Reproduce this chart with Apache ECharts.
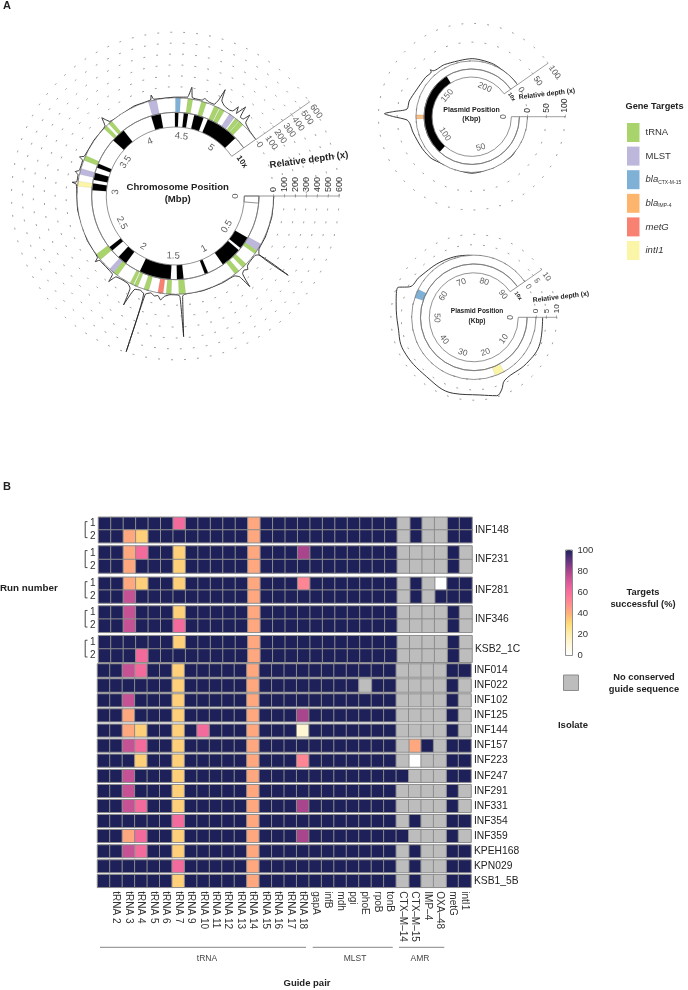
<!DOCTYPE html>
<html>
<head>
<meta charset="utf-8">
<style>html,body{margin:0;padding:0;background:#fff}#c{width:688px;height:990px}</style>
<script src="https://cdn.jsdelivr.net/npm/echarts@6/dist/echarts.min.js"></script>
</head>
<body>
<div id="c"></div>
<script>
/* ---------- heat map data ---------- */
const guides = ['', 'tRNA 2','tRNA 3','tRNA 4','tRNA 5','tRNA 6','tRNA 7','tRNA 9','tRNA 10','tRNA 11','tRNA 12','tRNA 13','tRNA 14','tRNA 15','tRNA 16','tRNA 17','tRNA 18','gapA','infB','mdh','pgi','phoE','rpoB','tonB','CTX\u2013M\u201314','CTX\u2013M\u201315','IMP\u20134','OXA\u201348','metG','intI1'];
const _ = null;
const INF148_1 = [100,100,100,100,100,100,62,100,100,100,100,100,42,100,100,100,100,100,100,100,100,100,100,100,_,100,_,_,100,100];
const INF148_2 = [100,100,42,33,100,100,100,100,100,100,100,100,42,100,100,100,100,100,100,100,100,100,100,100,_,100,_,_,100,100];
const INF231_1 = [100,100,42,62,100,100,33,100,100,100,100,100,42,100,100,100,80,100,100,100,100,100,100,100,_,_,_,_,100,_];
const INF231_2 = [100,100,42,100,100,100,33,100,100,100,100,100,42,100,100,100,100,100,100,100,100,100,100,100,_,_,_,_,100,_];
const INF281_1 = [100,100,42,33,100,100,33,100,100,100,100,100,42,100,100,100,52,100,100,100,100,100,100,100,_,100,_,0,100,100];
const INF281_2 = [100,100,74,100,100,100,100,100,100,100,100,100,42,100,100,100,100,100,100,100,100,100,100,100,_,100,_,100,100,100];
const INF346_1 = [100,100,74,100,100,100,33,100,100,100,100,100,42,100,100,100,100,100,100,100,100,100,100,100,_,_,_,_,100,_];
const INF346_2 = [100,100,74,100,100,100,62,100,100,100,100,100,42,100,100,100,100,100,100,100,100,100,100,100,_,_,_,_,100,_];
const KSB2_1C_1 = [100,100,100,100,100,100,33,100,100,100,100,100,42,100,100,100,100,100,100,100,100,100,100,100,_,_,_,_,100,_];
const KSB2_1C_2 = [100,100,100,62,100,100,100,100,100,100,100,100,42,100,100,100,100,100,100,100,100,100,100,100,_,_,_,_,100,_];
const INF014 = [100,100,74,62,100,100,33,100,100,100,100,100,42,100,100,100,100,100,100,100,100,100,100,100,_,_,_,_,100,100];
const INF022 = [100,100,100,100,100,100,33,100,100,100,100,100,42,100,100,100,100,100,100,100,100,_,100,100,_,_,_,_,100,_];
const INF102 = [100,100,74,100,100,100,33,100,100,100,100,100,42,100,100,100,100,100,100,100,100,100,100,100,_,_,_,_,100,_];
const INF125 = [100,100,42,100,100,100,33,100,100,100,100,100,42,100,100,100,80,100,100,100,100,100,100,100,_,_,_,_,100,_];
const INF144 = [100,100,42,33,100,100,33,100,62,100,100,100,42,100,100,100,12,100,100,100,100,100,100,100,_,_,_,_,100,_];
const INF157 = [100,100,74,62,100,100,33,100,100,100,100,100,42,100,100,100,100,100,100,100,100,100,100,100,_,42,100,_,100,100];
const INF223 = [100,100,100,33,100,100,33,100,100,100,100,100,42,100,100,100,52,100,100,100,100,100,100,100,_,0,_,_,100,100];
const INF247 = [100,100,74,100,100,100,33,100,100,100,100,100,42,100,100,100,100,100,100,100,100,100,100,100,100,_,_,_,100,100];
const INF291 = [100,100,74,100,100,100,33,100,100,100,100,100,42,100,100,100,100,100,100,100,100,100,100,100,_,_,_,_,100,_];
const INF331 = [100,100,74,62,100,100,33,100,100,100,100,100,42,100,100,100,80,100,100,100,100,100,100,100,_,_,_,_,100,_];
const INF354 = [100,100,100,100,100,100,62,100,100,100,100,100,42,100,100,100,100,100,100,100,100,100,100,100,_,100,_,_,100,100];
const INF359 = [100,100,42,62,100,100,33,100,100,100,100,100,42,100,100,100,80,100,100,100,100,100,100,100,100,_,_,_,100,_];
const KPEH168 = [100,100,74,62,100,100,33,100,100,100,100,100,42,100,100,100,100,100,100,100,100,100,100,100,_,100,_,_,100,100];
const KPN029 = [100,100,100,100,100,100,62,100,100,100,100,100,42,100,100,100,100,100,100,100,100,100,100,100,_,100,_,_,100,100];
const KSB1_5B = [100,100,100,100,100,100,33,100,100,100,100,100,42,100,100,100,100,100,100,100,100,100,100,100,_,100,_,_,100,100];
const isolates = ['INF148','INF231','INF281','INF346','KSB2_1C','INF014','INF022','INF102','INF125','INF144','INF157','INF223','INF247','INF291','INF331','INF354','INF359','KPEH168','KPN029','KSB1_5B'];
const isolateRuns = [[INF148_1,INF148_2],[INF231_1,INF231_2],[INF281_1,INF281_2],[INF346_1,INF346_2],[KSB2_1C_1,KSB2_1C_2],[INF014],[INF022],[INF102],[INF125],[INF144],[INF157],[INF223],[INF247],[INF291],[INF331],[INF354],[INF359],[KPEH168],[KPN029],[KSB1_5B]];
const scaleColors = ['#ffffff','#fff8dc','#ffeeb0','#ffdc78','#ffb07c','#ff8a92','#f96f9c','#d95a9a','#a8458c','#623480','#1e2159'];
const scaleTicks = [0,20,40,60,80,100];

/* ---------- chromosome ---------- */
const chromTicks = [0,0.5,1,1.5,2,2.5,3,3.5,4,4.5,5];
const chromDepthTicks = [0,100,200,300,400,500,600];
const chromEnd = 5.3;
const chromFull = 5.873;
const chromBlack = [[0.49,0.63],[0.66,0.90],[1.09,1.13],[1.375,1.45],[1.52,1.88],[2.06,2.17],[2.27,2.32],[3.00,3.08],[3.12,3.20],[3.26,3.31],[3.62,3.78],[4.13,4.24],[4.40,4.44],[4.50,4.55],[4.62,4.73],[4.78,5.155]];
const chromTRNA = [[0.548,0.587],[0.715,0.763],[0.809,0.858],[1.369,1.434],[1.507,1.556],[1.724,1.773],[1.835,1.871],[1.881,1.917],[2.055,2.104],[2.277,2.343],[3.284,3.333],[3.643,3.682],[3.708,3.747],[4.524,4.573],[4.657,4.706],[4.788,4.837],[4.845,4.894],[5.021,5.060],[5.065,5.114]];
const chromMLST = [[0.478,0.548],[2.104,2.153],[3.144,3.202],[4.144,4.225],[4.949,5.008]];
const chromBlaCTX = [[4.406,4.455]];
const chromMetG = [[1.584,1.636]];
const chromIntI1 = [[3.029,3.078]];
const chromStartBox = [[0,0.08]];
const chromDepth = [[0,2],[0.2,4],[0.4,6],[0.53,8],[0.565,30],[0.572,363],[0.578,30],[0.60,10],[0.68,10],[0.72,20],[0.74,45],[0.77,25],[0.80,40],[0.825,175],[0.84,45],[0.87,12],[1.0,5],[1.2,3],[1.38,3],[1.40,20],[1.413,391],[1.425,20],[1.45,6],[1.52,5],[1.57,25],[1.60,61],[1.63,25],[1.66,35],[1.70,15],[1.745,40],[1.754,595],[1.762,40],[1.80,20],[1.85,30],[1.883,205],[1.895,40],[1.93,12],[2.0,8],[2.06,18],[2.086,93],[2.10,20],[2.2,8],[2.28,12],[2.294,48],[2.31,10],[2.5,3],[2.8,3],[3.0,5],[3.05,15],[3.06,53],[3.07,12],[3.14,12],[3.16,43],[3.18,10],[3.28,10],[3.30,47],[3.32,10],[3.5,3],[3.67,10],[3.70,83],[3.73,10],[4.0,6],[4.17,8],[4.185,50],[4.2,8],[4.4,5],[4.52,12],[4.546,107],[4.565,14],[4.66,12],[4.68,33],[4.72,15],[4.78,12],[4.80,60],[4.815,175],[4.83,70],[4.87,40],[4.93,30],[4.96,40],[4.98,100],[5.0,40],[5.03,139],[5.05,35],[5.08,40],[5.10,107],[5.12,30],[5.2,5],[5.3,0]];

/* ---------- plasmid 1 ---------- */
const p1Ticks = [0,50,100,150,200];
const p1DepthTicks = [0,50,100];
const p1End = 221;
const p1Full = 244.9;
const p1Black = [[90,162]];
const p1BlaIMP = [[120.8,122.1],[122.5,123.8]];
const p1Depth = [[0,0],[30,1],[61,2],[90,5],[100,8],[112,13],[118,17],[120.5,24],[122.5,60],[123.8,84],[125,60],[127,25],[132,23],[140,15],[150,13],[155,12],[155.5,18],[156.5,11],[165,8],[184,6],[199,3],[215,0],[221,0]];
/* ---------- plasmid 2 ---------- */
const p2Ticks = [0,10,20,30,40,50,60,70,80,90];
const p2DepthTicks = [0,5,10];
const p2End = 90.8;
const p2Full = 100.6;
const p2Black = [];
const p2BlaCTX = [[55.4,57.8]];
const p2IntI1 = [[17,19.5]];
const p2Depth = [[0,3.2],[6,4.3],[11.5,3.8],[17.8,3.8],[19.3,7.5],[20.6,9.4],[23.9,7.6],[29.4,8],[35.9,6.6],[43.3,7.5],[48.3,6.8],[53,8],[56.3,9.4],[57.4,4.3],[60.6,2.6],[67.6,1],[74.3,0],[90.8,0]];

const geneColors = {tRNA:'#a9d46c',MLST:'#bdb7dc',CTX:'#7fb1d6',IMP:'#fdb56e',metG:'#f98172',intI1:'#fbf5a8'};

/* ---------- layout ---------- */
const facetBox = [[517.3,25.4],[546,27],[577.3,25.7],[606,26.3],[635.7,26.6],[664,13],[679,13],[694,12.7],[709,12.7],[724.3,12.5],[739.3,12.7],[754.3,12.7],[769.7,12.5],[784.7,12.6],[799.7,12.6],[814.7,12.6],[829.7,12.6],[845,12.5],[860,12.5],[874.7,12.6]];
const facetLabelNudge = [-2.7,-1.2,-1,-3,1];
const FONT = '"Liberation Sans", Arial, sans-serif';

/* ---------- options ---------- */
const grid=[],xAxis=[],yAxis=[],series=[];
const valueSeries=[];
isolates.forEach((name,i)=>{
  const [top,h]=facetBox[i];
  const runs=isolateRuns[i];
  const n=facetLabelNudge[i]||0;
  grid.push({left:i<5?98.5:97.5,top:top,width:373.5,height:h,containLabel:false});
  xAxis.push({type:'category',gridIndex:i,data:guides,position:'bottom',
    axisLine:{show:false},axisTick:{show:false},splitLine:{show:false},
    axisLabel:{show:i===isolates.length-1,interval:0,rotate:-90,margin:4,fontSize:10,color:'#333',fontFamily:FONT}});
  yAxis.push({type:'category',gridIndex:i,inverse:true,position:'left',data:runs.length>1?['1','2']:[''],
    axisLine:{show:false},axisTick:{show:false},splitLine:{show:false},
    axisLabel:{show:runs.length>1,margin:3,fontSize:10,color:'#333',fontFamily:FONT,interval:0}});
  yAxis.push({type:'category',gridIndex:i,position:'right',data:[name],
    axisLine:{show:false},axisTick:{show:false},splitLine:{show:false},
    axisLabel:{margin:3,fontSize:10.3,color:'#222',fontFamily:FONT,padding:[n>0?2*n:0,0,n<0?-2*n:0,0]}});
  const vals=[],greys=[];
  runs.forEach((row,r)=>row.forEach((v,c)=>{(v===null?greys:vals).push(v===null?[c,r,0]:[c,r,v]);}));
  valueSeries.push(series.length);
  const itemStyle={borderColor:'#8c8c8c',borderWidth:1};
  series.push({type:'heatmap',xAxisIndex:i,yAxisIndex:2*i,data:vals,itemStyle,emphasis:{disabled:true},progressive:0});
  series.push({type:'heatmap',xAxisIndex:i,yAxisIndex:2*i,data:greys,itemStyle:{...itemStyle,color:'#bdbdbd'},emphasis:{disabled:true},progressive:0});
});
// colour bar axis
const barIdx=isolates.length;
grid.push({left:565.5,top:550,width:7,height:105.5,show:true,borderColor:'#777',borderWidth:0.8,backgroundColor:'transparent',z:5});
xAxis.push({type:'value',gridIndex:barIdx,show:false,min:0,max:1});
yAxis.push({type:'value',gridIndex:barIdx,position:'right',min:0,max:100,interval:20,z:5,
  axisLine:{show:false},axisTick:{show:false},splitLine:{show:false},
  axisLabel:{margin:5,fontSize:9.5,color:'#333',fontFamily:FONT,customValues:scaleTicks}});

function bandRender(outline){
  return function(params,api){
    const lo=api.value(0),hi=api.value(1),a=api.value(2),b=api.value(3);
    const c=params.coordSys;
    const p0=api.coord([lo,a]),p1=api.coord([hi,a]),p2=api.coord([lo,b]);
    const r0=Math.hypot(p0[0]-c.cx,p0[1]-c.cy),r=Math.hypot(p1[0]-c.cx,p1[1]-c.cy);
    const s=Math.atan2(p0[1]-c.cy,p0[0]-c.cx);let e=Math.atan2(p2[1]-c.cy,p2[0]-c.cx);
    if(e<=s)e+=2*Math.PI;
    return {type:'sector',z2:outline?1:2,shape:{cx:c.cx,cy:c.cy,r0,r,startAngle:s,endAngle:e,clockwise:true},
      style:outline?{fill:'none',stroke:'#777',lineWidth:0.8}:{fill:api.visual('color'),stroke:'rgba(120,120,120,0.35)',lineWidth:0.3}};
  };
}
function bands(name,polarIndex,track,rows,color,outline){
  return {type:'custom',name,coordinateSystem:'polar',polarIndex,clip:false,silent:true,
    encode:{radius:[0,1],angle:[2,3]},itemStyle:{color},z:outline?3:2,
    renderItem:bandRender(outline),data:rows.map(p=>[track,track+1,p[0],p[1]])};
}
const polar=[],angleAxis=[],radiusAxis=[];
function circle(cfg){
  const base=polar.length;
  const {cx,cy,full,end,r1,r3,rMax,depthMax,depthStep,depthTicks,ext0,ticks,labelOff,fs}=cfg;
  // 0: tracks, 1: depth, 2: second depth axis
  polar.push({center:[cx,cy],radius:[r1,r3]});
  polar.push({center:[cx,cy],radius:[r3,rMax]});
  polar.push({center:[cx,cy],radius:[r3,rMax]});
  [0,0,35].forEach((sa,k)=>{
    angleAxis.push({polarIndex:base+k,type:'value',min:0,max:full,startAngle:sa,clockwise:true,show:false,
      axisLine:{show:false},axisTick:{show:false},axisLabel:{show:false},splitLine:{show:false}});
  });
  radiusAxis.push({polarIndex:base,type:'value',min:0,max:2,show:false});
  const mk=(lab,split)=>({type:'value',min:0,max:depthMax,interval:depthStep,z:6,
     axisLine:{show:false},axisTick:{show:true,length:2,lineStyle:{color:'#888',width:0.6}},
     splitLine:{show:split,lineStyle:{color:'#777',width:0.8,type:[1,12],cap:'round'}},
     axisLabel:{show:lab,rotate:90,margin:4,fontSize:fs,color:'#333',fontFamily:FONT}});
  radiusAxis.push({polarIndex:base+1,...mk(true,true)});
  radiusAxis.push({polarIndex:base+2,...mk(false,false)});

  series.push(bands(undefined,base,0,[[0,end]],'#000',true));
  series.push(bands(undefined,base,1,[[0,end]],'#000',true));
  series.push(bands('black',base,0,cfg.black,'#000',false));
  if(cfg.box) series.push(bands(undefined,base,0,cfg.box,'#000',true));
  cfg.genes.forEach(g=>series.push(bands(g[0],base,1,g[1],g[2],false)));
  // depth line
  series.push({type:'line',coordinateSystem:'polar',polarIndex:base+1,clip:false,showSymbol:false,silent:true,z:4,smooth:cfg.smooth,
    lineStyle:{color:'#222',width:0.9},data:cfg.depth.map(d=>[d[1],d[0]])});
  // axis rules, reaching past both ends of the tick range
  series.push({type:'line',coordinateSystem:'polar',polarIndex:base+1,clip:false,showSymbol:false,silent:true,z:4,
    lineStyle:{color:'#888',width:0.8},data:[[ext0,0],[depthMax*cfg.extTop,0]]});
  series.push({type:'line',coordinateSystem:'polar',polarIndex:base+2,clip:false,showSymbol:false,silent:true,z:4,
    lineStyle:{color:'#888',width:0.8},data:[[0,0],[depthMax*cfg.extTop,0]]});
  // tick labels of the second depth axis sit on its clockwise side
  series.push({type:'scatter',coordinateSystem:'polar',polarIndex:base+2,clip:false,silent:true,symbolSize:1,z:7,
    itemStyle:{color:'transparent'},
    label:{show:true,position:'inside',rotate:-55,align:'left',verticalAlign:'middle',padding:[0,0,0,4],fontSize:fs,color:'#333',fontFamily:FONT,formatter:p=>String(p.value[0])},
    data:depthTicks.map(v=>[v,0])});
  // position labels
  const labs=ticks.map(v=>{
    const th=v/full*360;const rot=th<=180?th-90:th-270;
    return {value:[labelOff,v],label:{rotate:-rot,formatter:String(v)}};
  });
  series.push({type:'scatter',coordinateSystem:'polar',polarIndex:base,clip:false,silent:true,symbolSize:1,z:7,
    itemStyle:{color:'transparent'},label:{show:true,position:'inside',fontSize:cfg.lfs,color:'#333',fontFamily:FONT},data:labs});
}
circle({cx:175.3,cy:196,full:chromFull,end:chromEnd,r1:69,r3:98.3,rMax:163.8,depthMax:600,depthStep:100,depthTicks:chromDepthTicks,ext0:-90,extTop:1.167,smooth:0.12,
  ticks:chromTicks,labelOff:-0.62,fs:9,lfs:9.5,black:chromBlack,box:chromStartBox,
  genes:[['tRNA',chromTRNA,geneColors.tRNA],['MLST',chromMLST,geneColors.MLST],['blaCTX-M-15',chromBlaCTX,geneColors.CTX],['metG',chromMetG,geneColors.metG],['intI1',chromIntI1,geneColors.intI1]],depth:chromDepth});
circle({cx:471.7,cy:116.7,full:p1Full,end:p1End,r1:39.7,r3:55.8,rMax:93.3,depthMax:100,depthStep:50,depthTicks:p1DepthTicks,ext0:-22,extTop:1.15,smooth:0.25,
  ticks:p1Ticks,labelOff:-0.95,fs:8.5,lfs:8.5,black:p1Black,
  genes:[['blaIMP-4',p1BlaIMP,geneColors.IMP]],depth:p1Depth});
circle({cx:473.8,cy:317.3,full:p2Full,end:p2End,r1:44.5,r3:62.2,rMax:82.9,depthMax:10,depthStep:5,depthTicks:p2DepthTicks,ext0:-3.3,extTop:1.0,smooth:0.4,
  ticks:p2Ticks,labelOff:-0.85,fs:8,lfs:8.5,black:p2Black,
  genes:[['blaCTX-M-15',p2BlaCTX,geneColors.CTX],['intI1',p2IntI1,geneColors.intI1]],depth:p2Depth});

function txt(text,x,y,opt){
  opt=opt||{};
  return {type:'text',x,y,rotation:(opt.rot||0)*Math.PI/180,z:20,silent:true,
    style:{text,x:0,y:0,fill:opt.fill||'#222',align:opt.align||'center',verticalAlign:'middle',
      font:(opt.bold?'bold ':'')+(opt.size||9.5)+'px '+FONT}};
}
const graphicEls=[
  txt('A',3,6,{bold:true,size:11,align:'left'}),
  txt('B',3,487,{bold:true,size:11,align:'left'}),
  txt('Chromosome Position',177.7,187,{bold:true,size:9.6}),
  txt('(Mbp)',177.7,199,{bold:true,size:9.6}),
  txt('Relative depth (x)',309,160,{bold:true,size:9.5,rot:7.7}),
  txt('10x',242,162,{bold:true,size:8,rot:-55}),
  txt('Plasmid Position',471.5,110,{bold:true,size:7}),
  txt('(Kbp)',471.5,119,{bold:true,size:7}),
  txt('Relative depth (x)',547,94,{bold:true,size:6.8,rot:7}),
  txt('10x',511.5,97,{bold:true,size:5.5,rot:-55}),
  txt('Plasmid Position',477,311.5,{bold:true,size:6.5}),
  txt('(Kbp)',477,321,{bold:true,size:6.5}),
  txt('Relative depth (x)',561,297,{bold:true,size:6.8,rot:7}),
  txt('10x',518,296,{bold:true,size:5.5,rot:-55}),
  txt('Gene Targets',625.5,106,{bold:true,size:9.2,align:'left'}),
  txt('Run number',0,588,{bold:true,size:9.8,align:'left'}),
  txt('Isolate',573,725,{bold:true,size:9.5}),
  txt('Targets',643,592,{bold:true,size:9.3}),
  txt('successful (%)',643,604,{bold:true,size:9.3}),
  txt('No conserved',644,677,{bold:true,size:9.3}),
  txt('guide sequence',644,689,{bold:true,size:9.3}),
  txt('tRNA',207,959,{size:8.5,fill:'#444'}),
  txt('MLST',355,959,{size:8.5,fill:'#444'}),
  txt('AMR',420,959,{size:8.5,fill:'#444'}),
  txt('Guide pair',307,983,{bold:true,size:9.5}),
  {type:'rect',z:20,silent:true,shape:{x:563.5,y:675,width:15,height:15.5},style:{fill:'#bdbdbd',stroke:'#8c8c8c',lineWidth:1}},
];
[[100,306],[312.7,392.7],[399,444.3]].forEach(s=>graphicEls.push({type:'line',z:20,silent:true,shape:{x1:s[0],y1:947.3,x2:s[1],y2:947.3},style:{stroke:'#666',lineWidth:0.8}}));
facetBox.slice(0,5).forEach(f=>{
  const y0=f[0]+f[1]*0.17,y1=f[0]+f[1]*0.8;
  graphicEls.push({type:'polyline',z:20,silent:true,shape:{points:[[87.5,y0],[85.2,y0],[85.2,y1],[87.5,y1]]},style:{stroke:'#333',lineWidth:0.9,fill:'none'}});
});

const legendRich={it:{fontStyle:'italic',fontSize:9.5,color:'#333',fontFamily:FONT},sub:{fontSize:5,color:'#333',fontFamily:FONT,verticalAlign:'bottom',padding:[5,0,0,0]},pl:{fontSize:9.5,color:'#333',fontFamily:FONT}};
const legendFmt={'tRNA':'{pl|tRNA}','MLST':'{pl|MLST}','blaCTX-M-15':'{it|bla}{sub|CTX-M-15}','blaIMP-4':'{it|bla}{sub|IMP-4}','metG':'{it|metG}','intI1':'{it|intI1}'};

const option={
  animation:false,
  backgroundColor:'#fff',
  textStyle:{fontFamily:FONT},
  grid,xAxis,yAxis,polar,angleAxis,radiusAxis,
  legend:{data:['tRNA','MLST','blaCTX-M-15','blaIMP-4','metG','intI1'],left:627,top:123,orient:'vertical',padding:0,
    icon:'rect',itemWidth:12.5,itemHeight:19,itemGap:4.6,selectedMode:false,formatter:n=>legendFmt[n],
    textStyle:{rich:legendRich,fontSize:9.5,padding:[0,0,0,1]}},
  visualMap:[{type:'continuous',min:0,max:100,seriesIndex:valueSeries,left:565.5,top:550,itemWidth:7,itemHeight:105.5,padding:0,
    calculable:false,hoverLink:false,text:null,textGap:0,orient:'vertical',inRange:{color:scaleColors},showLabel:false,textStyle:{fontSize:1,color:'transparent'}}],
  graphic:{elements:graphicEls},
  series
};
const chart=echarts.init(document.getElementById('c'),null,{renderer:'canvas',width:688,height:990});
chart.setOption(option);
</script>
</body>
</html>
